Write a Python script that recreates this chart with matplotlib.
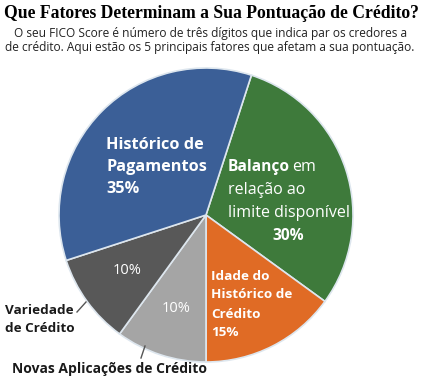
import matplotlib.pyplot as plt
import numpy as np

W, H = 421, 388

# slices, clockwise from the blue/green border
labels = ["Balanço", "Idade do Histórico de Crédito", "Novas Aplicações de Crédito",
          "Variedade de Crédito", "Histórico de Pagamentos"]
shares = [30, 15, 10, 10, 35]
colors = ["#3e7a3b", "#e06b25", "#a5a5a5", "#585858", "#3b5f97"]

title = "Que Fatores Determinam a Sua Pontuação de Crédito?"
subtitle = ["O seu FICO Score é número de três dígitos que indica par os credores a",
            "de crédito. Aqui estão os 5 principais fatores que afetam a sua pontuação."]

fig = plt.figure(figsize=(W / 100, H / 100), dpi=100)
ax = fig.add_axes([0, 0, 1, 1])

cx, cy, r = 206, H - 215, 147
ax.pie(shares, colors=colors, startangle=72, counterclock=False,
       center=(cx, cy), radius=r,
       wedgeprops=dict(edgecolor="#dde6ee", linewidth=1.2))
ax.set_xlim(0, W)
ax.set_ylim(0, H)
ax.set_aspect("equal")
ax.axis("off")


def y(v):
    # picture rows are counted from the top
    return H - v


sans = "Open Sans"
ax.text(211, y(13), title, ha="center", va="center", fontsize=12.7,
        fontweight="heavy", family="Liberation Serif", color="black")
ax.text(211, y(33), subtitle[0], ha="center", va="center", fontsize=8.6,
        family=sans, color="#222222")
ax.text(210, y(47), subtitle[1], ha="center", va="center", fontsize=8.6,
        family=sans, color="#222222")

white = dict(color="white", family=sans)
for i, line in enumerate(["Histórico de", "Pagamentos", "35%"]):
    ax.text(106, y(145 + 22 * i), line, ha="left", va="center", fontsize=11.7,
            fontweight="bold", **white)

ax.text(228, y(167), "Balanço", ha="left", va="center", fontsize=11.2,
        fontweight="bold", **white)
ax.text(292, y(167), "em", ha="left", va="center", fontsize=11.5, **white)
ax.text(228, y(190), "relação ao", ha="left", va="center", fontsize=11.5, **white)
ax.text(228, y(213), "limite disponível", ha="left", va="center", fontsize=11.5, **white)
ax.text(288, y(236), "30%", ha="center", va="center", fontsize=11.2,
        fontweight="bold", **white)

for i, line in enumerate(["Idade do", "Histórico de", "Crédito", "15%"]):
    ax.text(211, y(276 + 19 * i), line, ha="left", va="center", fontsize=9.7,
            fontweight="bold", **white)

ax.text(127, y(271), "10%", ha="center", va="center", fontsize=10.5, **white)
ax.text(176, y(308), "10%", ha="center", va="center", fontsize=10.5, **white)

ax.text(5, y(310), "Variedade", ha="left", va="center", fontsize=9.7,
        fontweight="bold", family=sans, color="#1a1a1a")
ax.text(5, y(328), "de Crédito", ha="left", va="center", fontsize=9.7,
        fontweight="bold", family=sans, color="#1a1a1a")
ax.plot([77, 86], [y(312), y(302)], color="#555555", lw=1)

ax.text(12, y(369), "Novas Aplicações de Crédito", ha="left", va="center",
        fontsize=10, fontweight="bold", family=sans, color="#1a1a1a")
ax.plot([141, 145], [y(358), y(346)], color="#555555", lw=1)

fig.savefig("out.png", dpi=100)
